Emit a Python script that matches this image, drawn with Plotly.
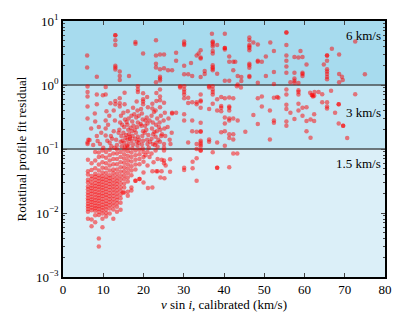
import math
import plotly.graph_objects as go

# ---------------- data ----------------
# dense low-vsini cluster, stored column by column
col_x = [6.2, 7.1, 8.0, 8.9, 9.8, 10.7, 11.6, 12.5, 13.4, 14.3, 15.2, 16.1, 17.0, 18.0, 19.0, 20.0]
col_y = [
    [0.0081, 0.0105, 0.0115, 0.0128, 0.0140, 0.0155, 0.0170, 0.0190, 0.021, 0.0235, 0.026, 0.030, 0.033, 0.040, 0.045, 0.068],
    [0.0062, 0.0079, 0.0110, 0.0122, 0.0134, 0.0148, 0.0163, 0.0180, 0.0199, 0.022, 0.0244, 0.027, 0.030, 0.034, 0.038, 0.047, 0.060],
    [0.0072, 0.0092, 0.0108, 0.0119, 0.013, 0.0143, 0.0158, 0.0175, 0.0195, 0.0215, 0.024, 0.0265, 0.0295, 0.033, 0.037, 0.041, 0.05, 0.066, 0.09],
    [0.0030, 0.0040, 0.0093, 0.0105, 0.0116, 0.0128, 0.0141, 0.0156, 0.0172, 0.019, 0.021, 0.0232, 0.0256, 0.0283, 0.0313, 0.035, 0.039, 0.046, 0.057, 0.075, 0.088],
    [0.006, 0.0081, 0.0098, 0.011, 0.0122, 0.0135, 0.015, 0.0166, 0.0184, 0.0204, 0.0226, 0.025, 0.0277, 0.0307, 0.034, 0.038, 0.043, 0.051, 0.062, 0.077, 0.095],
    [0.0088, 0.0100, 0.0113, 0.0126, 0.014, 0.0156, 0.0174, 0.0193, 0.0215, 0.024, 0.0267, 0.0297, 0.033, 0.037, 0.042, 0.050, 0.060, 0.073, 0.09],
    [0.0098, 0.0118, 0.0132, 0.0147, 0.0164, 0.0183, 0.0204, 0.0228, 0.0254, 0.0284, 0.0316, 0.035, 0.039, 0.046, 0.055, 0.066, 0.08, 0.097],
    [0.0081, 0.0113, 0.0130, 0.0146, 0.0164, 0.0184, 0.0207, 0.0232, 0.026, 0.029, 0.0325, 0.037, 0.042, 0.048, 0.058, 0.070, 0.085],
    [0.0105, 0.0125, 0.0142, 0.016, 0.018, 0.0202, 0.0227, 0.0255, 0.0286, 0.032, 0.036, 0.041, 0.048, 0.058, 0.070, 0.085, 0.099],
    [0.0112, 0.0145, 0.017, 0.0195, 0.0222, 0.0253, 0.029, 0.033, 0.038, 0.044, 0.052, 0.062, 0.075, 0.09],
    [0.021, 0.025, 0.029, 0.034, 0.039, 0.045, 0.052, 0.061, 0.071, 0.083, 0.097],
    [0.0186, 0.0215, 0.031, 0.036, 0.042, 0.049, 0.057, 0.067, 0.078, 0.092],
    [0.0224, 0.0250, 0.039, 0.046, 0.054, 0.064, 0.075, 0.088],
    [0.032, 0.048, 0.057, 0.068, 0.08, 0.095],
    [0.034, 0.058, 0.07, 0.083, 0.097],
    [0.030, 0.043, 0.063, 0.075, 0.09],
]

# scattered stars, residual between 0.1 and 1
mid_x = [6.1, 6.1, 6.1, 6.1, 6.1, 6.1, 6.1, 6.3, 7.0, 6.6, 7.9, 8.4, 8.4, 8.4, 8.6, 8.9, 8.0, 7.5,
         9.9, 10.6, 10.6, 10.8, 10.6, 10.6, 10.6, 9.5, 9.2, 10.0,
         11.8, 11.5, 11.2, 11.9, 11.6, 12.0,
         13.0, 13.0, 12.6, 12.9, 12.6, 13.2, 13.4, 12.8,
         14.1, 14.1, 14.1, 14.4, 14.2, 14.0, 14.5, 14.3, 14.6,
         15.3, 15.3, 15.0, 15.4, 15.2, 15.0, 15.5, 15.2, 15.4,
         16.1, 16.3, 16.0, 16.2, 16.4, 16.0, 16.3, 16.1,
         17.4, 17.0, 17.2, 17.5, 17.1, 17.3, 17.0, 17.4, 17.2,
         18.6, 18.6, 18.6, 18.3, 18.5, 18.2, 18.6, 18.4, 18.1, 18.6, 18.3, 18.5,
         19.9, 19.9, 19.9, 19.9, 19.6, 19.8, 19.5, 19.9, 19.7, 19.9, 19.6, 19.8,
         20.9, 21.1, 20.8, 21.0, 20.7, 21.2, 20.9, 21.0, 21.3,
         22.2, 22.2, 22.0, 22.3, 22.1, 22.4, 22.0, 22.3,
         23.2, 23.2, 23.0, 23.4, 23.1, 23.3, 23.0, 23.2, 23.5,
         24.1, 24.1, 24.1, 24.1, 24.3, 24.0, 24.2, 24.4, 24.1,
         25.1, 25.3, 25.0, 25.2, 25.4, 25.1, 25.1,
         26.2, 26.0, 26.5, 27.1, 27.0, 26.7,
         14.8, 15.7, 16.6, 17.8, 18.9, 19.3, 20.3, 21.6, 22.7, 23.7, 24.6, 15.8, 16.8, 17.7, 18.8,
         19.4, 20.4, 21.5, 22.6, 23.8, 14.7, 16.6, 18.8, 20.5, 22.8, 12.2, 11.0, 13.8, 15.9, 17.9,
         29.1, 29.1, 30.1, 30.1, 30.1, 30.1, 31.1, 30.1, 32.1, 33.2, 33.2, 34.2, 34.2, 34.2, 31.1, 34.2,
         27.1, 28.1, 30.1, 30.1, 32.1, 34.2, 36.3, 36.3, 37.2, 37.2, 37.2, 37.2, 37.2, 38.3, 39.3, 36.3,
         39.3, 39.3, 39.3, 38.3, 40.2, 41.3, 41.3, 41.3, 41.3, 42.3, 40.2, 41.3, 41.3, 42.3, 43.4, 40.2,
         32.1, 33.2, 34.2, 34.2, 39.3, 40.2, 41.3, 42.3, 41.3, 42.3, 31.1, 33.2, 34.2, 34.2, 34.2, 34.2,
         36.3, 36.3, 38.3, 40.2, 45.3, 47.3, 48.4, 49.4, 48.4, 49.4, 51.4, 52.4, 53.5, 52.4, 52.4, 51.4,
         43.2, 44.2,
         53.2, 55.5, 55.5, 55.5, 55.5, 55.5, 55.5, 56.5, 57.5, 58.5, 58.5, 58.5, 58.5, 58.5, 59.5, 60.5,
         59.5, 60.5, 61.5, 60.5, 61.5, 61.4, 61.8, 62.1, 62.4, 62.0, 62.5, 63.5, 64.4, 62.4, 62.4, 64.4,
         65.6, 65.6, 65.6, 67.6, 66.6, 68.5, 68.5, 68.5, 69.6, 69.6, 70.6, 72.6]
mid_y = [0.95, 0.78, 0.66, 0.46, 0.30, 0.126, 0.12, 0.14, 0.21, 0.138, 0.36, 0.71, 0.50, 0.16, 0.133, 0.22, 0.27, 0.115,
         0.69, 0.93, 0.71, 0.39, 0.28, 0.21, 0.162, 0.18, 0.12, 0.105,
         0.52, 0.33, 0.24, 0.16, 0.125, 0.11,
         0.56, 0.5, 0.40, 0.28, 0.19, 0.14, 0.115, 0.105,
         0.62, 0.52, 0.46, 0.33, 0.26, 0.2, 0.16, 0.13, 0.11,
         0.76, 0.5, 0.37, 0.29, 0.22, 0.18, 0.15, 0.125, 0.108,
         0.39, 0.30, 0.24, 0.2, 0.17, 0.14, 0.12, 0.105,
         0.44, 0.33, 0.27, 0.23, 0.19, 0.16, 0.135, 0.118, 0.103,
         0.96, 0.85, 0.78, 0.55, 0.40, 0.31, 0.26, 0.22, 0.18, 0.155, 0.13, 0.112,
         0.74, 0.6, 0.55, 0.5, 0.36, 0.29, 0.23, 0.19, 0.16, 0.135, 0.118, 0.102,
         0.65, 0.45, 0.31, 0.25, 0.2, 0.165, 0.14, 0.12, 0.105,
         0.51, 0.43, 0.33, 0.26, 0.21, 0.17, 0.145, 0.12,
         0.75, 0.56, 0.4, 0.3, 0.24, 0.19, 0.155, 0.125, 0.108,
         0.85, 0.66, 0.58, 0.45, 0.33, 0.26, 0.2, 0.16, 0.13,
         0.53, 0.37, 0.28, 0.21, 0.16, 0.12, 0.105,
         0.3, 0.22, 0.14, 0.36, 0.18, 0.12,
         0.135, 0.165, 0.145, 0.2, 0.14, 0.245, 0.18, 0.13, 0.185, 0.14, 0.17, 0.265, 0.215, 0.35, 0.33,
         0.42, 0.23, 0.28, 0.38, 0.22, 0.24, 0.155, 0.125, 0.28, 0.115, 0.145, 0.135, 0.18, 0.112, 0.145,
         0.955, 0.91, 0.955, 0.85, 0.78, 0.71, 0.63, 0.62, 0.54, 0.54, 0.5, 0.71, 0.575, 0.55, 0.525, 0.44,
         0.37, 0.37, 0.35, 0.28, 0.28, 0.257, 0.955, 0.91, 0.955, 0.85, 0.78, 0.71, 0.51, 0.6, 0.65, 0.42,
         0.47, 0.44, 0.39, 0.4, 0.62, 0.64, 0.46, 0.44, 0.4, 0.62, 0.31, 0.3, 0.28, 0.3, 0.28, 0.25,
         0.19, 0.186, 0.19, 0.186, 0.182, 0.19, 0.17, 0.17, 0.148, 0.141, 0.126, 0.12, 0.135, 0.126, 0.118, 0.11,
         0.141, 0.13, 0.126, 0.112, 0.186, 0.34, 0.62, 0.66, 0.245, 0.46, 0.4, 0.63, 0.63, 0.28, 0.257, 0.141,
         0.955, 0.91,
         0.65, 0.85, 0.71, 0.49, 0.42, 0.27, 0.23, 0.37, 0.295, 0.83, 0.78, 0.71, 0.51, 0.4, 0.44, 0.45,
         0.33, 0.275, 0.29, 0.19, 0.15, 0.76, 0.7, 0.66, 0.68, 0.69, 0.78, 0.78, 0.72, 0.35, 0.275, 0.54,
         0.54, 0.46, 0.43, 0.37, 0.81, 0.5, 0.5, 0.25, 0.23, 0.23, 0.148, 0.72]

# scattered stars, residual above 1
high_x = [13.0, 13.0, 13.0, 13.0, 18.0, 18.0, 23.1, 6.0, 6.0, 8.4, 13.0, 13.0, 13.0, 14.1, 14.1, 14.1, 16.4, 19.9,
          23.1, 24.1, 25.1, 23.1, 23.1, 25.1, 24.1, 26.1, 27.1, 24.1, 24.1, 24.1, 23.1,
          30.1, 30.1, 30.1, 37.0, 40.2, 37.2, 37.2, 37.2, 37.2, 37.2, 38.3, 40.2, 40.2, 46.3, 46.3, 46.3,
          46.3, 46.3, 47.3, 48.4, 51.5, 52.4, 28.1, 28.1, 33.2, 33.7, 34.2, 34.2, 34.2, 31.8, 30.1, 30.1,
          31.1, 32.1, 34.2, 35.2, 35.2, 37.2, 37.2, 37.2, 37.2, 38.3, 41.3, 41.3, 42.3, 42.8, 42.3, 40.2,
          41.3, 43.4, 44.3, 44.3, 46.3, 46.3, 46.3, 46.3, 46.3, 48.4, 48.4, 49.4, 50.4, 50.4, 52.4, 52.4,
          48.4, 43.4,
          55.5, 55.5, 55.5, 55.5, 55.5, 55.5, 55.5, 57.5, 58.5, 59.5, 59.0, 60.5, 57.5, 59.5, 59.5, 59.5,
          57.5, 57.5, 57.5, 58.5, 56.5, 65.6, 65.6, 65.6, 65.6, 65.6, 65.6, 65.6, 65.6, 64.8, 66.8, 68.6,
          68.6, 69.3, 69.5, 68.6, 72.6, 75.0, 37.2, 46.3, 40.2]
high_y = [6.0, 6.0, 5.0, 4.2, 4.7, 4.4, 5.0, 2.9, 1.87, 1.35, 2.0, 1.87, 1.74, 1.62, 1.38, 1.2, 1.38, 3.1,
          2.9, 3.0, 3.0, 2.15, 1.87, 1.82, 1.76, 1.7, 1.7, 1.35, 1.26, 1.18, 1.1,
          4.8, 4.4, 4.2, 6.3, 6.3, 4.8, 4.3, 4.0, 3.4, 3.1, 4.2, 3.8, 3.6, 5.5, 5.0, 4.2,
          3.8, 3.5, 4.6, 4.3, 4.6, 3.4, 3.2, 2.4, 2.9, 3.1, 3.5, 2.7, 2.6, 2.2, 2.0, 1.47,
          1.47, 1.38, 1.33, 1.66, 1.48, 2.04, 1.9, 1.8, 1.7, 1.5, 2.8, 2.3, 2.3, 2.3, 1.7, 1.17,
          1.17, 1.38, 1.33, 1.15, 2.15, 2.04, 1.86, 1.38, 1.33, 2.4, 2.3, 2.3, 2.8, 1.38, 1.6, 1.04,
          1.08, 1.02,
          6.6, 6.6, 4.2, 2.9, 2.4, 1.95, 1.55, 2.75, 2.7, 2.75, 3.4, 2.1, 1.55, 1.55, 1.48, 1.38,
          1.26, 1.17, 1.08, 1.07, 1.1, 2.9, 2.9, 2.4, 1.76, 1.62, 1.48, 1.33, 1.23, 2.1, 3.7, 3.0,
          1.48, 1.35, 1.2, 1.1, 4.8, 1.47, 4.6, 4.0, 3.8]

# scattered stars, residual below 0.1 away from the dense cluster
low_x = [33.2, 34.2, 34.2, 37.2, 42.3, 43.3, 33.2, 32.2, 30.1, 30.1, 32.2, 38.3, 38.3, 41.3, 33.2, 26.6, 26.6,
         25.1, 25.1, 25.1, 24.2, 25.2, 22.2, 21.1, 23.2, 22.2, 19.0, 18.0, 14.9,
         23.5, 24.5, 25.5, 24.5, 23.5, 21.0, 22.0, 23.0, 21.5, 20.5, 22.5, 21.0]
low_y = [0.1, 0.095, 0.095, 0.089, 0.085, 0.085, 0.072, 0.063, 0.051, 0.047, 0.05, 0.051, 0.051, 0.052, 0.032, 0.069, 0.044,
         0.095, 0.066, 0.06, 0.036, 0.035, 0.025, 0.0245, 0.045, 0.045, 0.034, 0.032, 0.021,
         0.07, 0.068, 0.055, 0.045, 0.045, 0.09, 0.085, 0.095, 0.075, 0.08, 0.062, 0.055]

band_edges = [1e-3, 0.1, 1.0, 10.0]
band_colors = ["#dbeff8", "#c3e6f4", "#a7dbee"]
band_labels = ["1.5 km/s", "3 km/s", "6 km/s"]
band_label_y = [0.059, 0.37, 6.0]

y_tickvals = [1e-3, 1e-2, 1e-1, 1, 10]
y_ticktext = ["10<sup>\u22123</sup>", "10<sup>\u22122</sup>", "10<sup>\u22121</sup>", "10<sup>0</sup>", "10<sup>1</sup>"]
y_minor = [m * 10 ** e for e in range(-3, 1) for m in range(2, 10)]

# ---------------- figure ----------------
xs, ys = [], []
for cx, cy in zip(col_x, col_y):
    xs += [cx] * len(cy)
    ys += cy
xs += mid_x + high_x + low_x
ys += mid_y + high_y + low_y

FONT = "Liberation Serif"
fig = go.Figure()
fig.add_trace(go.Scatter(
    x=xs, y=ys, mode="markers",
    marker=dict(color="rgba(255,0,0,0.5)", size=4.5, line=dict(width=0)),
    hoverinfo="skip", showlegend=False))

shapes = []
for i, c in enumerate(band_colors):
    shapes.append(dict(type="rect", xref="paper", yref="y", x0=0, x1=1,
                       y0=band_edges[i], y1=band_edges[i + 1],
                       fillcolor=c, line=dict(width=0), layer="below"))
for v in band_edges[1:3]:
    shapes.append(dict(type="line", xref="paper", yref="y", x0=0, x1=1, y0=v, y1=v,
                       line=dict(color="#4a4f52", width=1.5), layer="below"))

annotations = []
for lab, yv in zip(band_labels, band_label_y):
    # annotations on a log axis are positioned in log10 units
    annotations.append(dict(x=1, xref="paper", y=math.log10(yv), yref="y", text=lab, showarrow=False,
                            xanchor="right", yanchor="middle", xshift=-2,
                            font=dict(family=FONT, size=13, color="black")))

fig.update_layout(
    width=407, height=326,
    margin=dict(l=63, r=22, t=21, b=49, autoexpand=False),
    paper_bgcolor="white", plot_bgcolor=band_colors[0],
    font=dict(family=FONT, size=13, color="black"),
    shapes=shapes, annotations=annotations,
    xaxis=dict(range=[0, 80], dtick=10, tick0=0, ticks="inside", ticklen=4, tickwidth=1,
               mirror="ticks", showline=True, linecolor="black", linewidth=1.5,
               showgrid=False, zeroline=False, automargin=False,
               title=dict(text="<i>v</i> sin <i>i</i>, calibrated (km/s)", font=dict(size=13), standoff=3)),
    yaxis=dict(type="log", range=[-3, 1], tickmode="array", tickvals=y_tickvals, ticktext=y_ticktext,
               ticks="inside", ticklen=4, tickwidth=1, mirror="ticks", showline=True,
               linecolor="black", linewidth=1.5, showgrid=False, zeroline=False, automargin=False,
               minor=dict(tickmode="array", tickvals=y_minor, ticks="inside", ticklen=2, showgrid=False),
               title=dict(text="Rotatinal profile fit residual", font=dict(size=13), standoff=6)),
)

fig.write_html("out.html", config={"displayModeBar": False},
               post_script="document.body.style.margin='0px';")
